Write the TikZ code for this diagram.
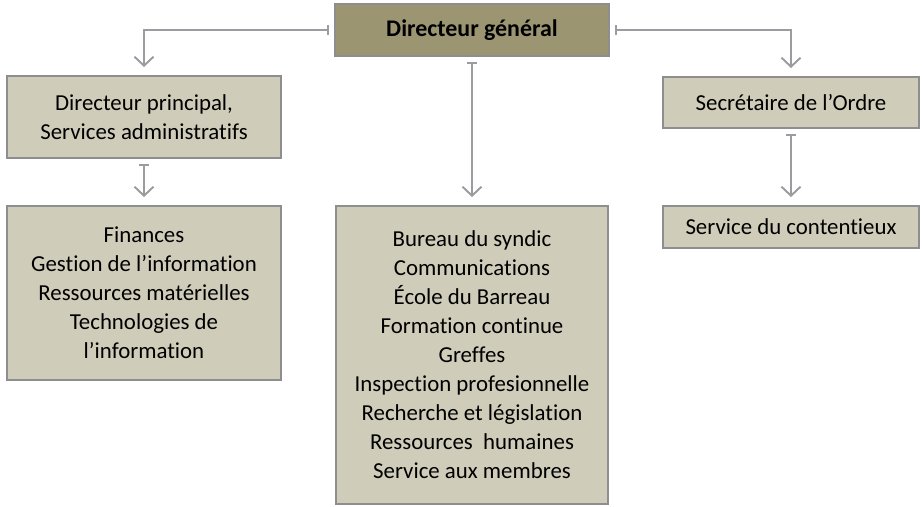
\documentclass[tikz,border=0pt]{standalone}
\usepackage{fontspec}
\setmainfont{Carlito}[Ligatures=NoCommon]
\usetikzlibrary{arrows.meta,positioning}
\definecolor{boxfill}{HTML}{CFCCBA}
\definecolor{topfill}{HTML}{9B9572}
\definecolor{edgegray}{HTML}{8E8E90}
\definecolor{linkgray}{HTML}{9C9CA0}

\begin{document}
\begin{tikzpicture}[
	unit/.style={draw=edgegray, line width=1.1pt, fill=boxfill, align=center,
		font=\fontsize{13pt}{16.5pt}\selectfont, inner sep=0pt},
	chief/.style={unit, fill=topfill, font=\fontsize{13.6pt}{16.5pt}\selectfont\bfseries},
	link/.style={draw=linkgray, line width=1.1pt,
		{Bar[width=2mm]}-{Straight Barb[length=1.8mm,width=3.8mm]},
		shorten <=0.1cm, shorten >=0.16cm}
	]
	\useasboundingbox (0,0) rectangle (18.46,-10.12);
	\node[chief, minimum width=5.48cm, minimum height=1.04cm] (dg) at (9.44,-0.60) {Directeur général};
	\node[unit, minimum width=5.48cm, minimum height=1.64cm] (dp) at (2.88,-2.34) {Directeur principal,\\Services administratifs};
	\node[unit, minimum width=5.48cm, minimum height=3.48cm] (adm) at (2.88,-5.86) {Finances\\Gestion de l’information\\Ressources matérielles\\Technologies de\\l’information};
	\node[unit, minimum width=5.44cm, minimum height=5.96cm] (dir) at (9.44,-7.10) {Bureau du syndic\\Communications\\École du Barreau\\Formation continue\\Greffes\\Inspection profesionnelle\\Recherche et législation\\Ressources~ humaines\\Service aux membres};
	\node[unit, minimum width=5.12cm, minimum height=1.02cm] (sec) at (15.82,-2.05) {Secrétaire de l’Ordre};
	\node[unit, minimum width=5.12cm, minimum height=0.84cm] (cont) at (15.82,-4.54) {Service du contentieux};
	\draw[link] (dg.west) -| (dp.north);
	\draw[link] (dg.south) -- (dir.north);
	\draw[link] (dg.east) -| (sec.north);
	\draw[link] (dp.south) -- (adm.north);
	\draw[link] (sec.south) -- (cont.north);
\end{tikzpicture}
\end{document}
